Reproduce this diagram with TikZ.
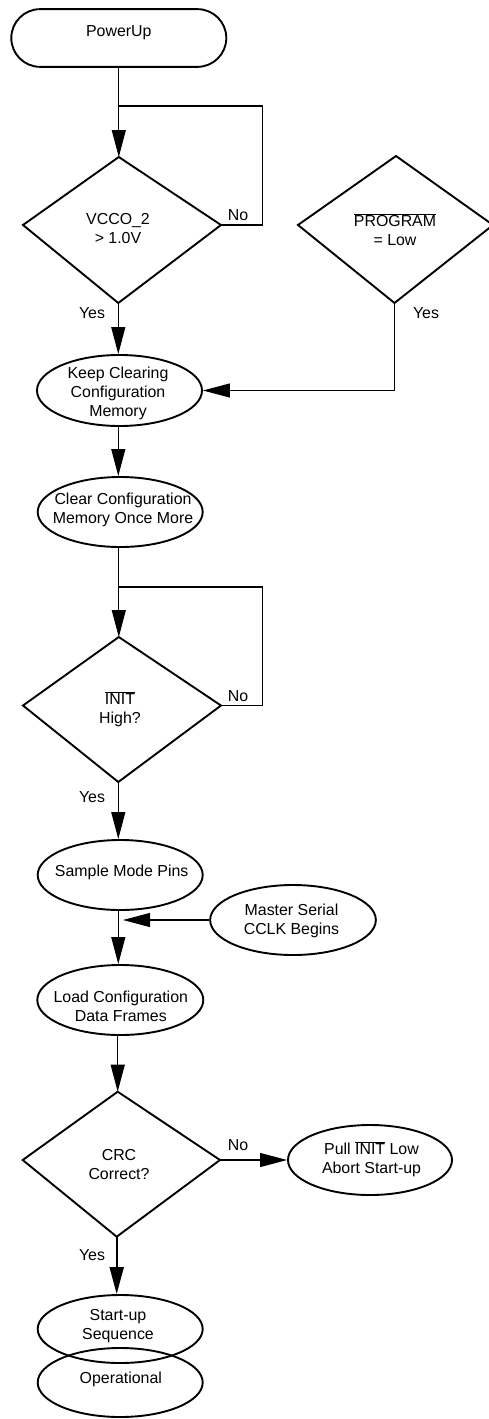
\documentclass[tikz,border=0pt]{standalone}
\usepackage{fontspec}
\setmainfont{Liberation Sans}
\usetikzlibrary{arrows.meta,shapes.geometric}
\newcommand\ovl[1]{$\overline{\hbox{#1}}$}
\begin{document}
\begin{tikzpicture}[x=1pt,y=1pt,
  shapeline/.style={draw, line width=1.9pt},
  ell/.style={shapeline, ellipse, inner sep=0pt, minimum width=165pt, minimum height=70pt},
  txt/.style={align=center, inner sep=0pt, font=\fontsize{15.9}{19}\selectfont},
  lbl/.style={inner sep=0pt, font=\fontsize{15.9}{19}\selectfont},
  wire/.style={draw, line width=1.1pt},
  conn/.style={wire, -{Triangle[length=27pt,width=14pt]}},
  thickconn/.style={draw, line width=2pt, -{Triangle[length=27pt,width=14pt]}},
]
\useasboundingbox (0,0) rectangle (489,-1419);

% start node
\node[shapeline, rectangle, rounded corners=28.8pt, minimum width=215pt, minimum height=57.7pt, inner sep=0pt] (pu) at (118.8,-38) {};
\node[txt] (put) at (118.8,-32.5) {PowerUp};

% diamond 1
\coordinate (d1n) at (118.8,-157);
\coordinate (d1e) at (221,-225);
\coordinate (d1s) at (118.3,-303);
\coordinate (d1w) at (23,-225);
\draw[shapeline, line join=miter] (d1n) -- (d1e) -- (d1s) -- (d1w) -- cycle;
\node[txt] (d1t) at (118,-229) {VCCO\_2\\ > 1.0V};

% diamond 2
\coordinate (d2n) at (396,-156);
\coordinate (d2e) at (493,-225);
\coordinate (d2s) at (394.5,-303);
\coordinate (d2w) at (298,-225);
\draw[shapeline, line join=miter] (d2n) -- (d2e) -- (d2s) -- (d2w) -- cycle;
\node[txt] (d2t) at (395,-230) {\ovl{PROGRAM}\\= Low};

% ellipses
\node[ell, minimum height=71pt] (keep) at (119.5,-390.5) {};
\node[txt] (keept) at (118,-393.5) {Keep Clearing\\Configuration\\Memory};
\node[ell] (clear) at (120.2,-512) {};
\node[txt] (cleart) at (123,-510) {Clear Configuration\\Memory Once More};

% diamond 3
\coordinate (d3n) at (118.8,-637);
\coordinate (d3e) at (221,-705.5);
\coordinate (d3s) at (118.3,-782);
\coordinate (d3w) at (23,-705.5);
\draw[shapeline, line join=miter] (d3n) -- (d3e) -- (d3s) -- (d3w) -- cycle;
\node[txt] (d3t) at (120,-709) {\ovl{INIT}\\High?};

\node[ell] (sample) at (120.2,-875) {};
\node[txt] (samplet) at (121.7,-872) {Sample Mode Pins};
\node[ell, minimum width=165.7pt] (master) at (293,-920) {};
\node[txt] (mastert) at (291.5,-921) {Master Serial\\CCLK Begins};
\node[ell, minimum width=166pt] (load) at (120.3,-1000) {};
\node[txt] (loadt) at (120.8,-1006) {Load Configuration\\Data Frames};

% diamond 4
\coordinate (d4n) at (117.7,-1091.7);
\coordinate (d4e) at (220,-1160);
\coordinate (d4s) at (116.7,-1236.7);
\coordinate (d4w) at (22.7,-1160);
\draw[shapeline, line join=miter] (d4n) -- (d4e) -- (d4s) -- (d4w) -- cycle;
\node[txt] (d4t) at (119,-1164.5) {CRC\\Correct?};

\node[ell, minimum width=164pt] (pull) at (370,-1160) {};
\node[txt] (pullt) at (371.5,-1159) {Pull \ovl{INIT} Low\\Abort Start-up};
\node[ell, minimum height=68pt] (start) at (120.2,-1329) {};
\node[txt] (startt) at (118,-1326.5) {Start-up\\Sequence};
\node[ell, minimum height=69pt] (oper) at (120.2,-1382.5) {};
\node[txt] (opert) at (120.8,-1379) {Operational};

% junctions
\coordinate (j1) at (118.8,-106);
\coordinate (j2) at (118.8,-587);
\coordinate (mj) at (123,-920);

% connectors
\draw[conn] (pu.south -| d1n) -- (d1n);
\draw[wire] (d1e) -- ++(41.5,0) |- (j1);
\draw[conn] (d1s) -- (d1s |- keep.north);
\draw[conn] (d2s) |- (keep.east);
\draw[conn] (keep.south -| d1s) -- (d1s |- clear.north);
\draw[conn] (clear.south -| d3n) -- (d3n);
\draw[wire] (d3e) -- ++(41.5,0) |- (j2);
\draw[conn] (d3s) -- (d3s |- sample.north);
\draw[conn] (sample.south -| d3s) -- (d3s |- load.north);
\draw[conn] (master.west) -- (mj);
\draw[conn] (load.south -| d4n) -- (d4n);
\draw[conn] (d4e) -- (pull.west);
\draw[thickconn] (d4s) -- (d4s |- start.north);

% labels
\node[lbl] (no1) at (238,-215) {No};
\node[lbl] (yes1) at (92,-313) {Yes};
\node[lbl] (yes2) at (426,-313) {Yes};
\node[lbl] (no2) at (238,-695.7) {No};
\node[lbl] (yes3) at (92,-797) {Yes};
\node[lbl] (no3) at (238,-1145) {No};
\node[lbl] (yes4) at (92,-1255) {Yes};
\end{tikzpicture}
\end{document}
